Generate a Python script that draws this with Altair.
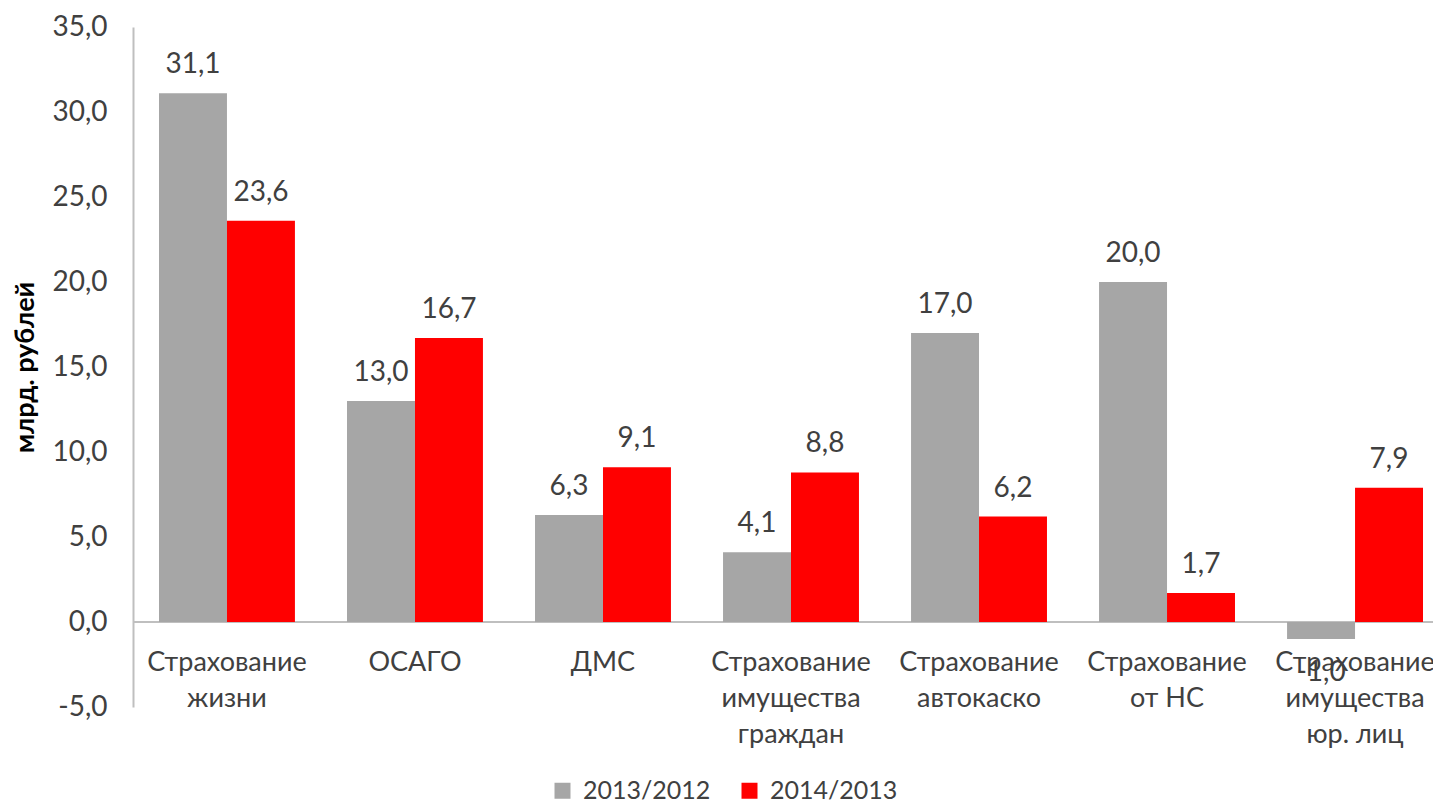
import altair as alt
import pandas as pd

categories = ["Страхование\nжизни", "ОСАГО", "ДМС", "Страхование\nимущества\nграждан",
              "Страхование\nавтокаско", "Страхование\nот НС", "Страхование\nимущества\nюр. лиц"]
series = ["2013/2012", "2014/2013"]
v2013 = [31.1, 13.0, 6.3, 4.1, 17.0, 20.0, -1.0]
v2014 = [23.6, 16.7, 9.1, 8.8, 6.2, 1.7, 7.9]
y_ticks = [-5, 0, 5, 10, 15, 20, 25, 30, 35]
colors = ["#a6a6a6", "#ff0000"]

rows = []
for i, c in enumerate(categories):
    rows.append({"cat": c, "series": series[0], "value": v2013[i]})
    rows.append({"cat": c, "series": series[1], "value": v2014[i]})
df = pd.DataFrame(rows)
cat_df = pd.DataFrame({"cat": categories})

FONT = "Lato"
TXT = "#404040"
W, H = 1300, 680
FMT = "replace(replace(format(datum.value, '.1f'), '.', ','), '\u2212', '-')"

xscale = alt.Scale(domain=categories, range=[26, 1290], paddingInner=0.277, paddingOuter=0)
x = alt.X("cat:N", sort=categories, scale=xscale, axis=None)
y = alt.Y("value:Q", scale=alt.Scale(domain=[-5, 35], nice=False, zero=False),
          axis=alt.Axis(values=y_ticks, title="млрд. рублей", grid=False, ticks=False,
                        labelExpr=FMT,
                        labelFont=FONT, labelFontSize=28, labelColor=TXT, labelPadding=26,
                        domainColor="#bfbfbf", domainWidth=2,
                        titleFont=FONT, titleFontWeight="bold",
                        titleFontSize=27, titleColor="#000000", titlePadding=12))

base = alt.Chart(df).encode(x=x, xOffset=alt.XOffset("series:N", sort=series))

bars = base.mark_bar().encode(
    y=y,
    color=alt.Color("series:N", sort=series,
                    scale=alt.Scale(domain=series, range=colors),
                    legend=alt.Legend(orient="none", legendX=417, legendY=751,
                                      direction="horizontal", title=None,
                                      symbolType="square", symbolSize=256,
                                      symbolStrokeWidth=0, symbolOpacity=1,
                                      labelFont=FONT, labelFontSize=25, labelColor=TXT,
                                      labelOffset=8, columnPadding=26)),
)

lab_pos = base.transform_filter("datum.value >= 0").transform_calculate(
    t=FMT
).mark_text(baseline="alphabetic", dy=-20, font=FONT, fontSize=28, color=TXT).encode(
    y="value:Q", text="t:N")

lab_neg = base.transform_filter("datum.value < 0").transform_calculate(
    t=FMT
).mark_text(baseline="top", dy=20, font=FONT, fontSize=28, color=TXT).encode(
    y="value:Q", text="t:N")

zero = alt.Chart(cat_df).mark_rule(color="#bfbfbf", strokeWidth=2).encode(
    y=alt.datum(0), x=alt.value(0), x2=alt.value(W))

cat_text = alt.Chart(cat_df).mark_text(
    baseline="top", dy=28, font=FONT, fontSize=27, color=TXT, lineBreak="\n", lineHeight=36
).encode(x=x, y=alt.datum(0), text="cat:N")

chart = alt.layer(zero, bars, lab_pos, lab_neg, cat_text).properties(
    width=W, height=H,
    autosize=alt.AutoSizeParams(type="none"),
    padding={"left": 125, "top": 19, "right": 0, "bottom": 96},
).configure_view(stroke=None)

chart.save("out.html", embed_options={"renderer": "svg", "actions": False})
